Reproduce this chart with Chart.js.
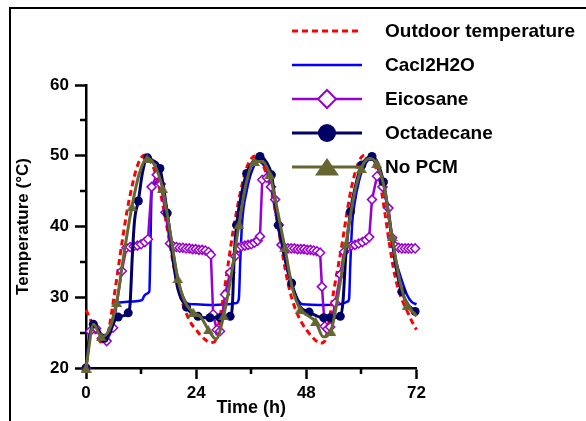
<!DOCTYPE html>
<html>
<head>
<meta charset="utf-8">
<script src="https://cdn.jsdelivr.net/npm/chart.js@4.4.0/dist/chart.umd.min.js"></script>
<style>
  html, body { margin: 0; padding: 0; background: #fff; }
  #wrap { position: relative; width: 586px; height: 421px; overflow: hidden; }
  #frame { position: absolute; left: 9px; top: 7px; width: 600px; height: 450px;
           border-left: 2px solid #000; border-top: 2px solid #000; }
  canvas { position: absolute; left: 0; top: 0; }
</style>
</head>
<body>
<div id="wrap">
  <div id="frame"></div>
  <canvas id="chart" width="586" height="421"></canvas>
</div>
<script>
// ---- data ----
const seriesNames = ['Outdoor temperature', 'Cacl2H2O', 'Eicosane', 'Octadecane', 'No PCM'];

const outdoorHours = [0,1,2,3,4,5,6,7,8,9,10,11,12,13,14,15,16,17,18,19,20,21,22,23,24,
  25,26,27,28,29,30,31,32,33,34,35,36,37,38,39,40,41,42,43,44,45,46,47,48,
  49,50,51,52,53,54,55,56,57,58,59,60,61,62,63,64,65,66,67,68,69,70,71,72];
const outdoorTemp = [28.2,26.8,25.1,23.8,23.4,25.6,29.6,34.0,38.4,42.4,45.6,48.2,49.7,50.1,49.3,47.8,45.4,42.2,38.6,34.8,31.6,29.2,27.5,26.2,25.4,
  24.6,24.0,23.6,23.7,26.5,30.4,34.8,39.2,42.8,45.9,48.3,49.6,50.0,49.4,48.0,45.8,43.0,39.4,35.4,32.0,29.5,27.7,26.4,25.4,
  24.6,23.9,23.5,23.8,26.8,31.0,34.6,38.4,42.6,46.0,48.4,49.8,50.1,49.6,48.6,46.4,42.4,38.0,34.0,31.2,29.4,28.0,26.6,25.4];

const cacl2Hours = [0,0.8,1.6,2.6,4.0,5.2,6.1,6.7,8.0,10.0,12.2,12.7,13.2,13.8,14.0,14.3,14.9,15.8,16.8,17.7,18.6,19.6,20.4,21.3,22.2,24.0,
  28.0,31.0,32.8,33.3,33.6,34.0,35.0,36.0,37.5,38.8,40.0,40.8,42.0,43.0,44.0,45.2,46.4,47.2,
  52.0,56.0,57.0,57.3,57.6,58.0,58.4,59.5,60.8,62.0,63.2,64.4,65.5,66.6,67.6,68.8,69.9,71.0,72.0];
const cacl2Temp = [20,24.5,26.1,25.4,24.2,25.2,27.8,29.2,29.3,29.4,29.6,30.2,30.5,30.8,36.0,44.8,46.0,46.6,45.2,42.0,38.1,34.0,31.5,29.8,29.1,29.0,
  28.9,29.0,29.2,29.8,35.0,40.5,45.0,47.6,49.2,48.6,46.5,43.8,39.4,36.3,33.4,31.1,29.4,29.0,
  28.9,29.1,29.4,29.7,35.0,40.5,42.8,46.5,48.8,49.5,48.8,46.5,43.3,38.6,35.0,32.4,30.4,29.3,29.0];

const eicosaneHours = [0,0.9,2.2,3.5,4.5,5.9,7.8,8.8,9.6,10.4,11.2,12.0,12.8,13.5,14.3,15.4,16.3,17.3,18.3,
  19.0,19.7,20.4,21.1,21.8,22.5,23.2,23.9,24.6,25.3,26.0,26.7,27.2,27.7,28.5,29.2,30.3,31.4,32.5,
  33.2,33.9,34.6,35.3,36.0,36.7,37.4,37.9,38.4,39.4,40.3,41.2,42.0,42.6,
  43.3,44.0,44.7,45.4,46.1,46.8,47.5,48.2,48.9,49.6,50.3,51.0,51.4,52.0,52.6,53.2,54.3,55.4,
  56.2,57.0,57.8,58.6,59.4,60.2,61.0,61.7,62.3,63.4,64.6,65.9,66.7,
  67.4,68.1,68.8,69.5,70.2,70.9,71.7];
const eicosaneTemp = [20,25.2,25.6,24.2,23.8,25.7,33.7,37.0,37.1,37.2,37.3,37.5,37.8,38.2,45.6,47.3,46.0,42.0,37.6,
  37.2,37.1,37.0,37.0,36.9,36.9,36.8,36.8,36.7,36.7,36.6,36.4,36.0,27.6,25.4,25.2,30.4,33.5,35.8,
  37.0,37.2,37.3,37.4,37.5,37.7,38.0,38.6,46.6,46.9,45.6,43.8,40.2,37.4,
  37.0,36.9,36.9,36.9,36.8,36.8,36.8,36.7,36.7,36.6,36.5,36.3,31.5,25.9,25.5,25.8,29.2,33.2,
  36.4,37.1,37.3,37.4,37.6,37.8,38.1,38.5,43.8,47.1,45.6,42.6,38.4,
  37.2,37.0,36.9,36.9,36.9,36.9,36.9];

const octadecaneHours = [0,0.8,1.6,2.6,4.0,5.2,6.3,7.0,8.2,9.2,9.6,10.1,10.6,11.4,12.3,13.4,14.6,16.1,17.7,18.8,20.0,21.9,23.3,24.4,
  26.0,27.0,29.2,31.4,31.9,32.3,32.8,34.0,35.0,36.5,37.9,39.2,40.4,41.9,43.2,44.8,46.5,48.6,
  50.5,51.8,53.2,55.4,56.0,56.6,57.6,58.8,60.1,62.3,64.8,66.5,67.6,68.8,70.2,71.7,72.0];
const octadecaneTemp = [20,24.5,26.2,25.5,24.2,25.0,26.8,27.2,27.4,27.8,29.0,36.0,41.0,43.6,47.6,49.7,49.3,48.2,41.9,36.0,31.2,28.6,27.6,27.3,
  27.1,27.1,27.1,27.3,29.0,36.0,40.2,45.0,47.5,49.3,49.9,49.2,47.3,40.2,36.0,32.0,28.8,27.9,
  27.3,27.1,27.1,27.3,29.5,36.0,42.1,46.0,48.7,49.9,46.3,39.0,34.0,30.8,28.9,28.0,27.6];
const octadecaneMarks = [1,0,1,0,1,0,0,1,0,1,0,0,0,1,0,1,0,1,1,0,0,1,0,1,
  0,1,1,1,0,0,1,0,1,0,1,0,1,1,0,1,0,1,
  0,1,1,1,0,0,1,0,1,1,1,0,0,1,0,1,0];

const noPcmHours = [0,1.67,3.33,5,6.67,8.33,10,11.67,13.33,15,16.67,18.33,20,21.67,23.33,25,26.67,28.33,30,31.67,33.33,35,
  36.67,38.33,40,41.67,43.33,45,46.67,48.33,50,51.67,53.33,55,56.67,58.33,60,61.67,63.33,65,66.67,68.33,70,71.67,72];
const noPcmTemp = [20,26.2,24.4,25.3,29.3,36.4,42.8,47.6,49.6,48.6,45.4,39.2,32.6,29.2,27.9,27.2,25.4,24.1,27.4,33.2,40.3,46.4,
  49.2,49.2,47.4,42.4,37.0,31.2,28.3,27.4,26.6,24.4,25.2,30.6,37.6,44.2,48.2,49.6,48.9,45.4,38.6,32.4,28.9,27.6,27.3];
const noPcmMarks = [1,0,1,0,1,0,1,0,1,0,1,0,1,0,1,0,1,0,1,0,1,0,
  1,0,1,0,1,0,1,0,1,0,1,0,1,0,1,0,1,0,1,0,1,0,0];

const xTicksMajor = [0, 24, 48, 72];
const xTicksMinor = [12, 36, 60];
const yTicksMinor = [25, 35, 45, 55];

// ---- helpers ----
const FONT = "'Liberation Sans', Arial, sans-serif";
const RED = '#ff0000', BLUE = '#0000ff', PURPLE = '#9900cc', NAVY = '#000066', OLIVE = '#666633';

function pts(hours, temps) {
  return hours.map((h, i) => ({ x: h, y: temps[i] }));
}

function triangle(w, h, color) {
  const c = document.createElement('canvas');
  c.width = w; c.height = h;
  const g = c.getContext('2d');
  g.fillStyle = color;
  g.beginPath();
  g.moveTo(w / 2, 0);
  g.lineTo(w, h);
  g.lineTo(0, h);
  g.closePath();
  g.fill();
  return c;
}
const triMark = triangle(11, 9, OLIVE);

const minorTicks = {
  id: 'minorTicks',
  afterDraw(chart) {
    const c = chart.ctx, xs = chart.scales.x, ys = chart.scales.y;
    const a = chart.chartArea;
    c.save();
    c.strokeStyle = '#000';
    c.lineWidth = 2.5;
    xTicksMinor.forEach(v => {
      const px = Math.round(xs.getPixelForValue(v));
      c.beginPath(); c.moveTo(px, a.bottom); c.lineTo(px, a.bottom + 6); c.stroke();
    });
    yTicksMinor.forEach(v => {
      const py = Math.round(ys.getPixelForValue(v));
      c.beginPath(); c.moveTo(a.left, py); c.lineTo(a.left - 6, py); c.stroke();
    });
    c.restore();
  }
};

const sideLegend = {
  id: 'sideLegend',
  afterDraw(chart) {
    const c = chart.ctx;
    const rowY = [31, 65, 99, 133, 167];
    const x0 = 292, x1 = 362, mx = 327, tx = 385;
    c.save();
    seriesNames.forEach((name, i) => {
      const ds = chart.data.datasets[i];
      const y = rowY[i];
      c.strokeStyle = ds.borderColor;
      c.lineWidth = ds.borderWidth;
      c.setLineDash(ds.borderDash || []);
      c.beginPath(); c.moveTo(x0, y); c.lineTo(x1, y); c.stroke();
      c.setLineDash([]);
      if (i === 2) {
        c.fillStyle = '#fff';
        c.lineWidth = 2;
        c.beginPath();
        c.moveTo(mx, y - 9); c.lineTo(mx + 9, y); c.lineTo(mx, y + 9); c.lineTo(mx - 9, y); c.closePath();
        c.fill(); c.stroke();
      } else if (i === 3) {
        c.fillStyle = NAVY;
        c.beginPath(); c.arc(mx, y, 9, 0, Math.PI * 2); c.fill();
      } else if (i === 4) {
        c.fillStyle = OLIVE;
        c.beginPath();
        c.moveTo(mx, y - 9); c.lineTo(mx + 12, y + 8.5); c.lineTo(mx - 12, y + 8.5); c.closePath();
        c.fill();
      }
      c.fillStyle = '#000';
      c.font = 'bold 19px ' + FONT;
      c.textBaseline = 'middle';
      c.textAlign = 'left';
      c.fillText(name, tx, y + 1);
    });
    c.restore();
  }
};

const ctx = document.getElementById('chart').getContext('2d');
const chart = new Chart(ctx, {
  type: 'line',
  data: {
    datasets: [
      {
        label: seriesNames[0],
        data: pts(outdoorHours, outdoorTemp),
        borderColor: RED, borderWidth: 3, borderDash: [6, 4],
        pointRadius: 0, cubicInterpolationMode: 'monotone',
        order: 3, clip: false
      },
      {
        label: seriesNames[1],
        data: pts(cacl2Hours, cacl2Temp),
        borderColor: BLUE, borderWidth: 2.5,
        pointRadius: 0, cubicInterpolationMode: 'monotone',
        order: 4, clip: false
      },
      {
        label: seriesNames[2],
        data: pts(eicosaneHours, eicosaneTemp),
        borderColor: PURPLE, borderWidth: 2.5, tension: 0,
        pointStyle: 'rectRot', pointRadius: 4.5, pointBorderWidth: 1.5,
        pointBorderColor: PURPLE, pointBackgroundColor: '#fff',
        order: 2, clip: false
      },
      {
        label: seriesNames[3],
        data: pts(octadecaneHours, octadecaneTemp),
        borderColor: NAVY, borderWidth: 3, cubicInterpolationMode: 'monotone',
        pointStyle: 'circle',
        pointRadius: c => octadecaneMarks[c.dataIndex] ? 4.5 : 0,
        pointBackgroundColor: NAVY, pointBorderColor: NAVY, pointBorderWidth: 0,
        order: 1, clip: false
      },
      {
        label: seriesNames[4],
        data: pts(noPcmHours, noPcmTemp),
        borderColor: OLIVE, borderWidth: 3, cubicInterpolationMode: 'monotone',
        pointStyle: triMark,
        pointRadius: c => noPcmMarks[c.dataIndex] ? 5 : 0,
        order: 0, clip: false
      }
    ]
  },
  options: {
    responsive: false,
    animation: false,
    events: [],
    devicePixelRatio: 1,
    layout: { padding: { left: 0, top: 85, right: 169.5, bottom: 0 } },
    plugins: { legend: { display: false }, tooltip: { enabled: false } },
    scales: {
      x: {
        type: 'linear', min: 0, max: 72,
        afterFit: s => { s.height = 53; },
        afterBuildTicks: s => { s.ticks = xTicksMajor.map(v => ({ value: v })); },
        ticks: { color: '#000', font: { family: FONT, size: 17, weight: 'bold' }, padding: 4, maxRotation: 0 },
        grid: { drawOnChartArea: false, drawTicks: true, tickLength: 11, tickWidth: 2.5, tickColor: '#000' },
        border: { display: true, color: '#000', width: 2.5 },
        title: { display: true, text: 'Time (h)', color: '#000',
                 font: { family: FONT, size: 18, weight: 'bold' }, padding: { top: 0, bottom: 2 } }
      },
      y: {
        min: 20, max: 60,
        afterFit: s => { s.width = 86; },
        ticks: { stepSize: 10, color: '#000', font: { family: FONT, size: 17, weight: 'bold' }, padding: 6 },
        grid: { drawOnChartArea: false, drawTicks: true, tickLength: 11, tickWidth: 2.5, tickColor: '#000' },
        border: { display: true, color: '#000', width: 2.5 },
        title: { display: true, text: 'Temperature (°C)', color: '#000',
                 font: { family: FONT, size: 17, weight: 'bold' }, padding: { top: 13, bottom: 0 } }
      }
    }
  },
  plugins: [minorTicks, sideLegend]
});
</script>
</body>
</html>
